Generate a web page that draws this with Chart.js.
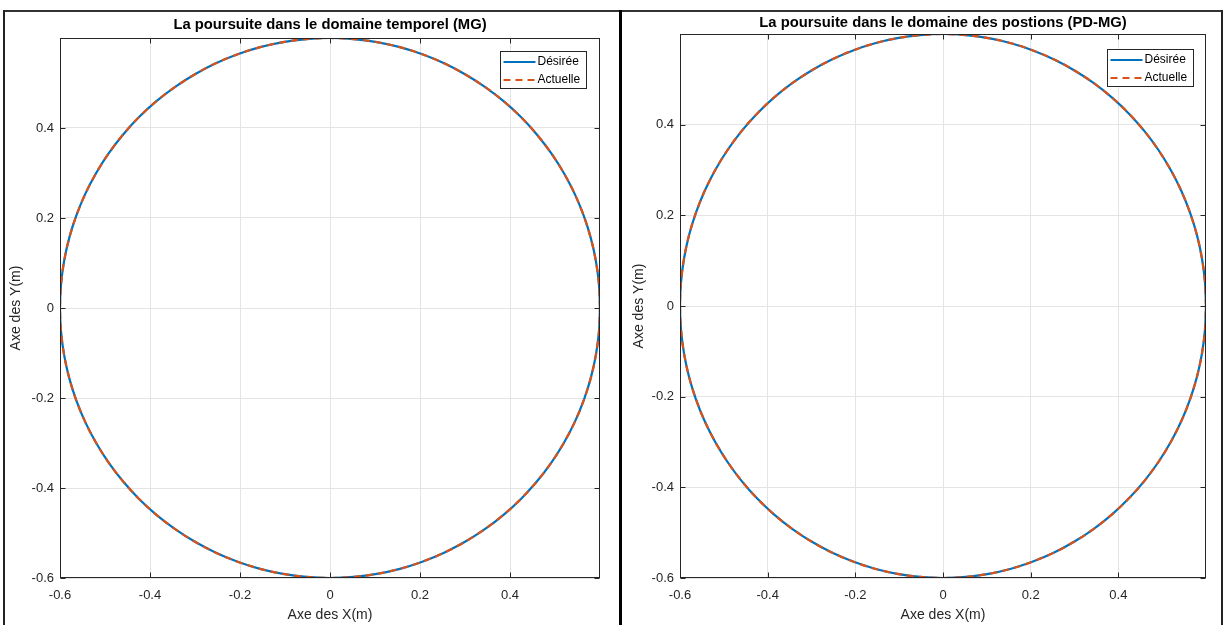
<!DOCTYPE html>
<html lang="fr">
<head>
<meta charset="utf-8">
<title>La poursuite – MG / PD-MG</title>
<script src="https://cdn.jsdelivr.net/npm/chart.js@4.4.1/dist/chart.umd.min.js"></script>
<style>
  html, body { margin: 0; padding: 0; background: #fff; }
  #page { position: relative; width: 1225px; height: 625px; overflow: hidden; background: #fff; }
  .panel { position: absolute; }
  .rule { position: absolute; }
</style>
</head>
<body>
<div id="page">
  <div class="panel" style="left:5px;top:12px;width:613px;height:613px;">
    <canvas id="chartMG" width="613" height="613" style="width:613px;height:613px;"></canvas>
  </div>
  <div class="panel" style="left:624px;top:12px;width:596px;height:613px;">
    <canvas id="chartPDMG" width="596" height="613" style="width:596px;height:613px;"></canvas>
  </div>
  <!-- frame around the two figures -->
  <div class="rule" style="left:3px;top:10px;width:1220px;height:2px;background:#333;"></div>
  <div class="rule" style="left:3px;top:10px;width:2px;height:615px;background:#222;"></div>
  <div class="rule" style="left:619px;top:10px;width:3px;height:615px;background:#000;"></div>
  <div class="rule" style="left:1221px;top:10px;width:2px;height:615px;background:#222;"></div>
</div>
<script>
// Circular reference trajectory (radius 0.6 m), sampled every 5 degrees
const desiredX = [
  0.6, 0.5977, 0.5909, 0.5796, 0.5638, 0.5438, 0.5196, 0.4915, 0.4596, 0.4243,
  0.3857, 0.3441, 0.3, 0.2536, 0.2052, 0.1553, 0.1042, 0.0523, 0,
  -0.0523, -0.1042, -0.1553, -0.2052, -0.2536, -0.3, -0.3441, -0.3857, -0.4243,
  -0.4596, -0.4915, -0.5196, -0.5438, -0.5638, -0.5796, -0.5909, -0.5977, -0.6,
  -0.5977, -0.5909, -0.5796, -0.5638, -0.5438, -0.5196, -0.4915, -0.4596, -0.4243,
  -0.3857, -0.3441, -0.3, -0.2536, -0.2052, -0.1553, -0.1042, -0.0523, 0,
  0.0523, 0.1042, 0.1553, 0.2052, 0.2536, 0.3, 0.3441, 0.3857, 0.4243,
  0.4596, 0.4915, 0.5196, 0.5438, 0.5638, 0.5796, 0.5909, 0.5977, 0.6
];
const desiredY = [
  0, 0.0523, 0.1042, 0.1553, 0.2052, 0.2536, 0.3, 0.3441, 0.3857, 0.4243,
  0.4596, 0.4915, 0.5196, 0.5438, 0.5638, 0.5796, 0.5909, 0.5977, 0.6,
  0.5977, 0.5909, 0.5796, 0.5638, 0.5438, 0.5196, 0.4915, 0.4596, 0.4243,
  0.3857, 0.3441, 0.3, 0.2536, 0.2052, 0.1553, 0.1042, 0.0523, 0,
  -0.0523, -0.1042, -0.1553, -0.2052, -0.2536, -0.3, -0.3441, -0.3857, -0.4243,
  -0.4596, -0.4915, -0.5196, -0.5438, -0.5638, -0.5796, -0.5909, -0.5977, -0.6,
  -0.5977, -0.5909, -0.5796, -0.5638, -0.5438, -0.5196, -0.4915, -0.4596, -0.4243,
  -0.3857, -0.3441, -0.3, -0.2536, -0.2052, -0.1553, -0.1042, -0.0523, 0
];
// Measured trajectory: the tracking error is below one pixel, so it follows the reference points
const actualX = desiredX.slice();
const actualY = desiredY.slice();

const tickValues = [-0.6, -0.4, -0.2, 0, 0.2, 0.4];
const seriesNames = ['Désirée', 'Actuelle'];
const chartTitles = [
  'La poursuite dans le domaine temporel (MG)',
  'La poursuite dans le domaine des postions (PD-MG)'
];
const xAxisLabel = 'Axe des X(m)';
const yAxisLabel = 'Axe des Y(m)';

const FONT = '"Liberation Sans", Arial, Helvetica, sans-serif';
Chart.defaults.font.family = FONT;
Chart.defaults.color = '#262626';

function toPoints(xs, ys) {
  return xs.map((x, i) => ({ x: x, y: ys[i] }));
}

function formatTick(v) {
  return Math.abs(v) < 1e-9 ? '0' : Number(v).toFixed(1);
}

// MATLAB-like axes decoration: box, inward tick marks, title and boxed legend
const matlabAxes = {
  id: 'matlabAxes',
  afterDraw(chart, args, opts) {
    const { ctx, chartArea: a } = chart;
    const sx = chart.scales.x, sy = chart.scales.y;
    ctx.save();
    ctx.strokeStyle = '#262626';
    ctx.lineWidth = 1;
    ctx.setLineDash([]);
    const L = Math.round(a.left) + 0.5, R = Math.round(a.right) - 0.5;
    const T = Math.round(a.top) + 0.5, B = Math.round(a.bottom) - 0.5;
    ctx.strokeRect(L, T, R - L, B - T);

    const tl = 5;
    ctx.beginPath();
    sx.ticks.forEach(t => {
      const px = Math.round(sx.getPixelForValue(t.value)) + 0.5;
      ctx.moveTo(px, B); ctx.lineTo(px, B - tl);
      ctx.moveTo(px, T); ctx.lineTo(px, T + tl);
    });
    sy.ticks.forEach(t => {
      const py = Math.round(sy.getPixelForValue(t.value)) + 0.5;
      ctx.moveTo(L, py); ctx.lineTo(L + tl, py);
      ctx.moveTo(R, py); ctx.lineTo(R - tl, py);
    });
    ctx.stroke();

    // title centred over the plot area
    ctx.font = 'bold 14.8px ' + FONT;
    ctx.fillStyle = '#000';
    ctx.textAlign = 'center';
    ctx.textBaseline = 'middle';
    ctx.fillText(opts.title, (a.left + a.right) / 2, opts.titleY);

    // legend box in the upper right corner
    ctx.font = '12px ' + FONT;
    const ds = chart.data.datasets;
    const textW = Math.max(...ds.map(d => ctx.measureText(d.label).width));
    const w = Math.round(37 + textW + 6), h = 37;
    const x0 = Math.round(a.right - opts.legendRight - w) + 0.5;
    const y0 = Math.round(a.top + opts.legendTop) + 0.5;
    ctx.fillStyle = '#fff';
    ctx.fillRect(x0, y0, w, h);
    ctx.strokeStyle = '#262626';
    ctx.lineWidth = 1;
    ctx.strokeRect(x0, y0, w, h);
    ds.forEach((d, i) => {
      const yy = y0 + 10.5 + 18 * i;
      ctx.beginPath();
      ctx.strokeStyle = d.borderColor;
      ctx.lineWidth = d.borderWidth;
      ctx.setLineDash(d.borderDash || []);
      ctx.moveTo(x0 + 3, yy);
      ctx.lineTo(x0 + 35, yy);
      ctx.stroke();
      ctx.setLineDash([]);
      ctx.fillStyle = '#000';
      ctx.textAlign = 'left';
      ctx.textBaseline = 'middle';
      ctx.fillText(d.label, x0 + 37, yy);
    });
    ctx.restore();
  }
};

function axisOptions(axis, cfg) {
  const isX = axis === 'x';
  return {
    type: 'linear',
    min: -0.6,
    max: 0.6,
    afterBuildTicks: s => { s.ticks = tickValues.map(v => ({ value: v })); },
    afterFit: s => { if (isX) s.height = cfg.xAxisHeight; else s.width = cfg.yAxisWidth; },
    grid: { color: '#e4e4e4', lineWidth: 1, drawTicks: false },
    border: { display: false },
    ticks: {
      padding: isX ? 10 : 6,
      color: '#262626',
      font: { size: 13 },
      maxRotation: 0,
      autoSkip: false,
      callback: v => formatTick(v)
    },
    title: {
      display: true,
      text: isX ? xAxisLabel : yAxisLabel,
      color: '#262626',
      font: { size: 14 },
      padding: isX ? { top: 0, bottom: 1.6 } : { top: cfg.yTitlePad, bottom: 0 }
    }
  };
}

function makeChart(id, cfg) {
  return new Chart(document.getElementById(id), {
    type: 'scatter',
    data: {
      datasets: [
        {
          label: seriesNames[0],
          data: toPoints(desiredX, desiredY),
          showLine: true,
          borderColor: '#0072BD',
          backgroundColor: '#0072BD',
          borderWidth: 2.2,
          pointRadius: 0,
          tension: 0.33,
          fill: false,
          order: 1
        },
        {
          label: seriesNames[1],
          data: toPoints(actualX, actualY),
          showLine: true,
          borderColor: '#D95319',
          backgroundColor: '#D95319',
          borderWidth: 2.2,
          borderDash: [7, 5],
          pointRadius: 0,
          tension: 0.33,
          fill: false,
          order: 0
        }
      ]
    },
    options: {
      responsive: false,
      animation: false,
      events: [],
      layout: { padding: { left: 0, right: cfg.padRight, top: cfg.padTop, bottom: 0 } },
      scales: {
        x: axisOptions('x', cfg),
        y: axisOptions('y', cfg)
      },
      plugins: {
        legend: { display: false },
        tooltip: { enabled: false },
        title: { display: false },
        matlabAxes: {
          title: cfg.title,
          titleY: cfg.titleY,
          legendRight: cfg.legendRight,
          legendTop: cfg.legendTop
        }
      }
    },
    plugins: [matlabAxes]
  });
}

makeChart('chartMG', {
  title: chartTitles[0], titleY: 13.2,
  padTop: 26, padRight: 18, xAxisHeight: 47, yAxisWidth: 55, yTitlePad: 2.6,
  legendRight: 14, legendTop: 13
});
makeChart('chartPDMG', {
  title: chartTitles[1], titleY: 11.2,
  padTop: 22, padRight: 14, xAxisHeight: 47, yAxisWidth: 56, yTitlePad: 6.6,
  legendRight: 13, legendTop: 15
});
</script>
</body>
</html>
